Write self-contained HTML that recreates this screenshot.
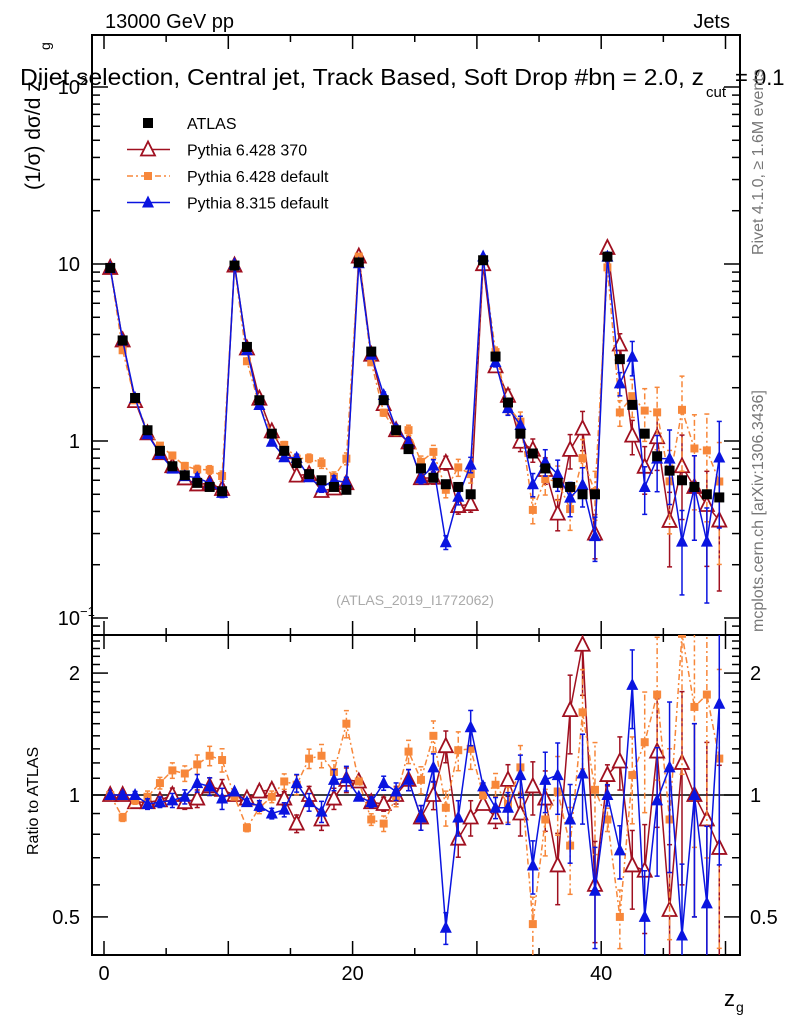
<!DOCTYPE html>
<html><head><meta charset="utf-8"><style>
body{margin:0;background:#fff;}
svg{display:block;font-family:"Liberation Sans",sans-serif;}
</style></head><body>
<svg id="c" width="786" height="1024" viewBox="0 0 786 1024"></svg>
<script>
const atlas=[9.5,3.7,1.75,1.15,0.88,0.72,0.64,0.58,0.55,0.52,
9.8,3.4,1.7,1.1,0.88,0.75,0.65,0.6,0.55,0.53,
10.2,3.2,1.7,1.15,0.9,0.7,0.62,0.57,0.55,0.5,
10.5,3.0,1.65,1.1,0.85,0.7,0.58,0.55,0.5,0.5,
11,2.9,1.6,1.1,0.82,0.68,0.6,0.55,0.5,0.48];
const ratioRed=[1.0,1.0,0.96,0.96,0.97,1.0,0.96,0.98,1.05,1.03,
1.0,0.98,1.02,1.03,0.98,0.85,1.0,0.87,0.98,1.09,
1.08,0.96,0.95,1.0,1.09,0.88,1.0,1.32,0.78,0.88,
0.95,0.88,1.09,0.9,1.05,0.98,0.67,1.62,2.35,0.6,
1.12,1.21,0.67,0.65,1.28,0.52,1.2,1.0,0.87,0.74];
const ratioOrange=[1.0,0.88,0.97,0.99,1.07,1.15,1.13,1.19,1.25,1.22,
0.99,0.83,0.93,0.99,1.08,1.06,1.23,1.25,1.14,1.5,
1.08,0.87,0.85,0.99,1.28,1.09,1.4,0.93,1.29,1.3,
1.0,1.06,0.95,1.17,0.48,0.87,1.02,0.75,1.6,1.03,
0.87,0.5,1.12,1.35,1.77,0.87,2.5,1.65,1.77,1.23];
const ratioBlue=[1.0,1.0,1.0,0.95,0.96,0.97,0.99,1.07,1.05,0.98,
1.02,0.96,0.94,0.9,0.92,1.07,0.96,0.91,1.09,1.1,
0.99,0.96,1.07,1.02,1.09,0.88,1.17,0.47,0.88,1.47,
1.05,0.93,0.93,1.12,0.67,1.09,1.12,0.87,1.13,0.58,
1.0,0.73,1.87,0.5,0.97,1.17,0.45,1.0,0.54,1.68];
const relErrMC=[0.01,0.02,0.02,0.03,0.03,0.04,0.04,0.05,0.05,0.06,
0.01,0.02,0.03,0.03,0.04,0.05,0.05,0.06,0.06,0.07,
0.01,0.03,0.04,0.05,0.06,0.07,0.08,0.09,0.1,0.1,
0.02,0.06,0.09,0.12,0.15,0.17,0.2,0.22,0.25,0.28,
0.06,0.15,0.22,0.3,0.35,0.45,0.5,0.5,0.55,0.6];
const xTicks=[0,20,40];
const S="http://www.w3.org/2000/svg";
const svg=document.getElementById('c');
const L=92,R=740,T=35,MB=635,RB=955;
const xs=v=>104+(v)*12.43;
const ym=v=>441-Math.log10(v)*177;
const yr=v=>795-Math.log10(v)*405;
function el(t,a,p){const e=document.createElementNS(S,t);for(const k in a)e.setAttribute(k,a[k]);(p||svg).appendChild(e);return e;}
function txt(x,y,s,a){const e=el('text',Object.assign({x:x,y:y,'font-size':19,fill:'#000'},a||{}));e.textContent=s;return e;}
const defs=el('defs',{});
const c1=el('clipPath',{id:'cm'},defs);el('rect',{x:L,y:T,width:R-L,height:MB-T},c1);
const c2=el('clipPath',{id:'cr'},defs);el('rect',{x:L,y:MB,width:R-L,height:RB-MB},c2);
const f1=el('rect',{x:L,y:T,width:R-L,height:MB-T,fill:'none',stroke:'#000','stroke-width':2});

const f2=el('rect',{x:L,y:MB,width:R-L,height:RB-MB,fill:'none',stroke:'#000','stroke-width':2});

const axg=el('g',{stroke:'#000','stroke-width':1.5});

for(let v=0;v<=50;v+=5){const big=v%10==0;const h=big?14:7;const x=xs(v);
el('line',{x1:x,x2:x,y1:MB,y2:MB-h},axg);el('line',{x1:x,x2:x,y1:T,y2:T+h},axg);
el('line',{x1:x,x2:x,y1:RB,y2:RB-h},axg);el('line',{x1:x,x2:x,y1:MB,y2:MB+h},axg);}
xTicks.forEach(v=>{const t=txt(xs(v),980,String(v),{'text-anchor':'middle','font-size':20});
});
for(let d=-2;d<=2;d++)for(let m=1;m<10;m++){const v=m*Math.pow(10,d);const y=ym(v);if(y<T||y>MB)continue;
const h=m==1?16:8;el('line',{x1:L,x2:L+h,y1:y,y2:y},axg);el('line',{x1:R,x2:R-h,y1:y,y2:y},axg);}
[[100,'10'],[10,'10'],[1,'1'],[0.1,'10']].forEach((p,i)=>{const y=ym(p[0])+7;const t=txt(80,y,p[1],{'text-anchor':'end','font-size':20});

if(i==0){txt(80,y-9,'2',{'font-size':13});}if(i==3){txt(80,y-9,'−1',{'font-size':13});}});
for(let v=0.4;v<=2.5;v+=0.1){const y=yr(v);if(y<MB||y>RB)continue;const big=Math.abs(v-0.5)<1e-6||Math.abs(v-1)<1e-6||Math.abs(v-2)<1e-6;
const h=big?16:8;el('line',{x1:L,x2:L+h,y1:y,y2:y},axg);el('line',{x1:R,x2:R-h,y1:y,y2:y},axg);}
[[2,'2'],[1,'1'],[0.5,'0.5']].forEach(p=>{const y=yr(p[0])+7;
const a=txt(80,y,p[1],{'text-anchor':'end','font-size':20});
const b=txt(750,y,p[1],{'font-size':20});});
el('line',{x1:L,x2:R,y1:yr(1),y2:yr(1),stroke:'#000','stroke-width':1.5});
function marker(g,type,x,y,col){
if(type=='sq')el('rect',{x:x-5,y:y-5,width:10,height:10,fill:col},g);
else if(type=='osq')el('rect',{x:x-4,y:y-4,width:8,height:8,fill:col},g);
else if(type=='otri')el('polygon',{points:`${x},${y-8} ${x-7},${y+6} ${x+7},${y+6}`,fill:'#fff',stroke:col,'stroke-width':1.8},g);
else el('polygon',{points:`${x},${y-7} ${x-6},${y+5} ${x+6},${y+5}`,fill:col},g);}
const series=[
{name:'pythia-6428-370',r:ratioRed,col:'#a01020',type:'otri',dash:'',ef:1.0},
{name:'pythia-6428-default',r:ratioOrange,col:'#f7873a',type:'osq',dash:'6,3,2,3',ef:1.1},
{name:'pythia-8315-default',r:ratioBlue,col:'#0a14e0',type:'tri',dash:'',ef:1.0}];
series.forEach(s=>{
[['cm',ym,i=>atlas[i]*s.r[i]],['cr',yr,i=>s.r[i]]].forEach(([cp,yf,vf])=>{
const g=el('g',{'clip-path':`url(#${cp})`});


let pts=[];
for(let i=0;i<50;i++){const v=vf(i);const x=xs(i+0.5);const y=yf(v);pts.push(x+','+y);
const e=relErrMC[i]*s.ef;const yl=yf(Math.max(v*(1-e),1e-3)),yh=yf(v*(1+e));
el('line',{x1:x,x2:x,y1:yl,y2:yh,stroke:s.col,'stroke-width':1.5,'stroke-dasharray':s.dash},g);
el('line',{x1:x-2.5,x2:x+2.5,y1:yl,y2:yl,stroke:s.col,'stroke-width':1.5},g);
el('line',{x1:x-2.5,x2:x+2.5,y1:yh,y2:yh,stroke:s.col,'stroke-width':1.5},g);}
el('polyline',{points:pts.join(' '),fill:'none',stroke:s.col,'stroke-width':1.5,'stroke-dasharray':s.dash},g);
for(let i=0;i<50;i++){const v=vf(i);marker(g,s.type,xs(i+0.5),yf(v),s.col);}
});});
const ga=el('g',{'clip-path':'url(#cm)'});

for(let i=0;i<50;i++){const x=xs(i+0.5);marker(ga,'sq',x,ym(atlas[i]),'#000');}
let t;
t=txt(105,28,'13000 GeV pp',{'font-size':20});
t=txt(730,28,'Jets',{'font-size':20,'text-anchor':'end'});
t=txt(20,85,'Dijet selection, Central jet, Track Based, Soft Drop #bη = 2.0, z',{'font-size':23,textLength:684,lengthAdjust:'spacingAndGlyphs'});
txt(706,97,'cut',{'font-size':15});txt(735,85,' = 0.1',{'font-size':22});
t=txt(0,0,'(1/σ) dσ/d z',{'font-size':21,transform:'translate(40,190) rotate(-90)'});
txt(0,0,'g',{'font-size':14,transform:'translate(50,50) rotate(-90)'});
t=txt(0,0,'Ratio to ATLAS',{'font-size':16,transform:'translate(38,855) rotate(-90)'});
t=txt(724,1006,'z',{'font-size':22});
txt(736,1012,'g',{'font-size':14});
t=txt(0,0,'Rivet 4.1.0, ≥ 1.6M events',{'font-size':16,fill:'#777',transform:'translate(763,255) rotate(-90)'});
t=txt(0,0,'mcplots.cern.ch [arXiv:1306.3436]',{'font-size':16,fill:'#777',transform:'translate(763,632) rotate(-90)'});
t=txt(415,605,'(ATLAS_2019_I1772062)',{'font-size':14,fill:'#aaa','text-anchor':'middle'});
const lg=el('g',{});
const leg=[['ATLAS','#000','sq',''],['Pythia 6.428 370','#a01020','otri',''],['Pythia 6.428 default','#f7873a','osq','6,3,2,3'],['Pythia 8.315 default','#0a14e0','tri','']];
leg.forEach((l,i)=>{const y=123+i*26.5;const g=el('g',{},lg);

if(i>0)el('line',{x1:127,x2:170,y1:y,y2:y,stroke:l[1],'stroke-width':1.5,'stroke-dasharray':l[3]},g);
marker(g,l[2],148,y,l[1]);
txt(187,y+6,l[0],{'font-size':16},g);});
</script>
</body></html>
